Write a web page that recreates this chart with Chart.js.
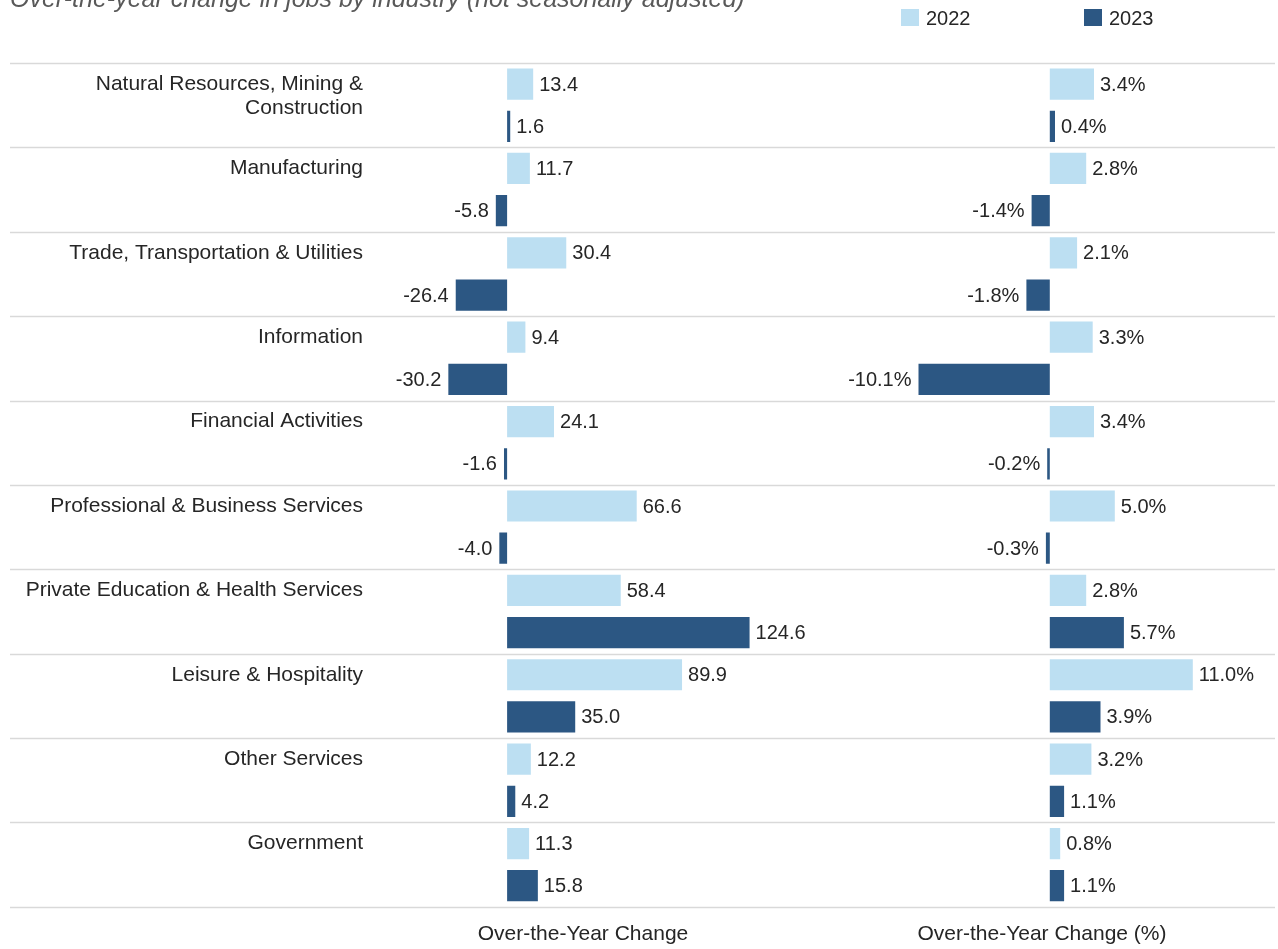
<!DOCTYPE html>
<html lang="en">
<head>
<meta charset="UTF-8">
<title>Over-the-year change in jobs by industry</title>
<script src="https://cdn.jsdelivr.net/npm/chart.js"></script>
<style>
  body { margin: 0; background: #fff; font-family: "Liberation Sans", Arial, sans-serif; }
  #page { position: relative; width: 1278px; height: 949px; overflow: hidden; }
  .layer { position: absolute; left: 0; top: 0; width: 1278px; height: 949px; }
  #title { position: absolute; left: 10px; top: -14px; font-size: 25px; line-height: 25px; font-style: italic; color: #595959; white-space: nowrap; }
  .key { position: absolute; top: 9px; font-size: 20px; line-height: 18px; color: #262626; }
  .key span { display: inline-block; width: 18px; height: 17px; vertical-align: top; margin-right: 7px; }
</style>
</head>
<body>
<div id="page">
  <div class="layer"><canvas id="countChart"></canvas></div>
  <div class="layer"><canvas id="pctChart"></canvas></div>
  <div id="title">Over-the-year change in jobs by industry (not seasonally adjusted)</div>
  <div class="key" style="left:901px"><span style="background:#bcdff2"></span>2022</div>
  <div class="key" style="left:1084px"><span style="background:#2c5783"></span>2023</div>
</div>

<script>
// Data (thousands of jobs, and percent)
const industries = [
  ['Natural Resources, Mining &', 'Construction'],
  'Manufacturing',
  'Trade, Transportation & Utilities',
  'Information',
  'Financial Activities',
  'Professional & Business Services',
  'Private Education & Health Services',
  'Leisure & Hospitality',
  'Other Services',
  'Government'
];
const change2022 = [13.4, 11.7, 30.4, 9.4, 24.1, 66.6, 58.4, 89.9, 12.2, 11.3];
const change2023 = [1.6, -5.8, -26.4, -30.2, -1.6, -4.0, 124.6, 35.0, 4.2, 15.8];
const pct2022 = [3.4, 2.8, 2.1, 3.3, 3.4, 5.0, 2.8, 11.0, 3.2, 0.8];
const pct2023 = [0.4, -1.4, -1.8, -10.1, -0.2, -0.3, 5.7, 3.9, 1.1, 1.1];

const LIGHT = '#bcdff2';
const DARK = '#2c5783';
const TEXT = '#262626';
const FONT = '20px "Liberation Sans", Arial, sans-serif';
const LABEL_FONT = '21px "Liberation Sans", Arial, sans-serif';

Chart.defaults.font.family = '"Liberation Sans", Arial, sans-serif';
Chart.defaults.font.size = 20;
Chart.defaults.color = TEXT;

// value labels next to each bar
const valueLabels = {
  id: 'valueLabels',
  afterDatasetsDraw(chart, args, opts) {
    const ctx = chart.ctx;
    ctx.save();
    ctx.font = FONT;
    ctx.fillStyle = TEXT;
    ctx.textBaseline = 'middle';
    chart.data.datasets.forEach((ds, di) => {
      chart.getDatasetMeta(di).data.forEach((bar, i) => {
        const v = ds.data[i];
        const txt = v.toFixed(1) + (opts.suffix || '');
        if (v >= 0) {
          ctx.textAlign = 'left';
          ctx.fillText(txt, bar.x + 6, bar.y + 1);
        } else {
          ctx.textAlign = 'right';
          ctx.fillText(txt, bar.x - 7, bar.y + 1);
        }
      });
    });
    ctx.restore();
  }
};

// row separators and industry names (left chart only)
const rowDecor = {
  id: 'rowDecor',
  beforeDatasetsDraw(chart) {
    const ctx = chart.ctx;
    const area = chart.chartArea;
    const n = chart.data.labels.length;
    const band = (area.bottom - area.top) / n;
    ctx.save();
    ctx.strokeStyle = '#d9d9d9';
    ctx.lineWidth = 1.5;
    for (let i = 0; i <= n; i++) {
      const y = Math.round(area.top + i * band) + 0.5;
      ctx.beginPath();
      ctx.moveTo(10, y);
      ctx.lineTo(1275, y);
      ctx.stroke();
    }
    ctx.restore();
  },
  afterDraw(chart) {
    const ctx = chart.ctx;
    const meta = chart.getDatasetMeta(0);
    ctx.save();
    ctx.font = LABEL_FONT;
    ctx.fillStyle = TEXT;
    ctx.textAlign = 'right';
    ctx.textBaseline = 'middle';
    chart.data.labels.forEach((lab, i) => {
      const lines = Array.isArray(lab) ? lab : [lab];
      lines.forEach((line, k) => ctx.fillText(line, 363, meta.data[i].y + k * 24));
    });
    ctx.restore();
  }
};

function panel(canvasId, d1, d2, xMin, xMax, padLeft, padRight, axisTitle, suffix, plugins) {
  return new Chart(document.getElementById(canvasId), {
    type: 'bar',
    data: {
      labels: industries,
      datasets: [
        { label: '2022', data: d1, backgroundColor: LIGHT, categoryPercentage: 1.0, barPercentage: 0.74 },
        { label: '2023', data: d2, backgroundColor: DARK, categoryPercentage: 1.0, barPercentage: 0.74 }
      ]
    },
    options: {
      indexAxis: 'y',
      responsive: true,
      maintainAspectRatio: false,
      animation: false,
      events: [],
      layout: { padding: { top: 63, bottom: 2, left: padLeft, right: padRight } },
      scales: {
        x: {
          min: xMin,
          max: xMax,
          grid: { display: false, drawTicks: false },
          border: { display: false },
          ticks: { display: false },
          title: { display: true, text: axisTitle, color: TEXT, font: { size: 21 }, padding: { top: 15, bottom: 0 } }
        },
        y: { display: false }
      },
      plugins: {
        legend: { display: false },
        tooltip: { enabled: false },
        valueLabels: { suffix: suffix }
      }
    },
    plugins: plugins
  });
}

// Over-the-year change (thousands): zero line near x=507
panel('countChart', change2022, change2023, -72, 150, 367, 479, 'Over-the-Year Change', '', [rowDecor, valueLabels]);
// Over-the-year change (%): zero line near x=1050
panel('pctChart', pct2022, pct2023, -14.6, 13.4, 860, 54, 'Over-the-Year Change (%)', '%', [valueLabels]);
</script>
</body>
</html>
